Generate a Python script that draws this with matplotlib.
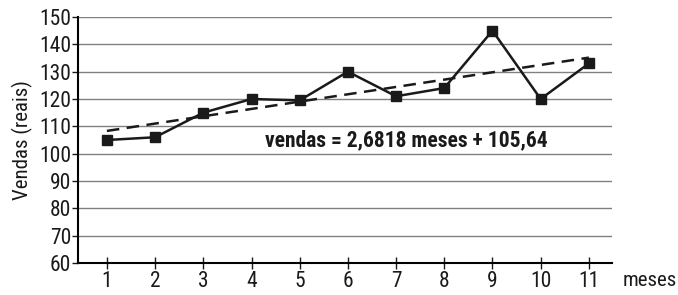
import matplotlib.pyplot as plt
import numpy as np
from matplotlib import font_manager

# fonte estreita (tipo Arial Narrow), se existir
nomes = set(f.name for f in font_manager.fontManager.ttflist)
preferidas = ['Liberation Sans Narrow', 'Arial Narrow', 'Roboto Condensed', 'PT Sans Narrow',
              'Nimbus Sans Narrow', 'Asap Condensed']
escolhida = [n for n in preferidas if n in nomes][:1]
plt.rcParams['font.family'] = escolhida + ['Liberation Sans', 'DejaVu Sans']

meses = [1, 2, 3, 4, 5, 6, 7, 8, 9, 10, 11]
vendas = [105, 106, 115, 120, 119.5, 130, 121, 124, 145, 120, 133]
coef_a = 2.6818
coef_b = 105.64
y_ticks = [60, 70, 80, 90, 100, 110, 120, 130, 140, 150]

if escolhida:
    fs_tick, fs_eq, fs_lab = 15.5, 15.5, 15
else:
    fs_tick, fs_eq, fs_lab = 13, 13, 13

fig = plt.figure(figsize=(6.78, 2.95), dpi=100)
ax = fig.add_axes([78 / 678, 1 - 263 / 295, (612 - 78) / 678, (263 - 17) / 295])

for t in y_ticks[1:]:
    ax.axhline(t, color='#808080', lw=1.0, zorder=1)

x_tend = np.array([meses[0], meses[-1]])
ax.plot(x_tend, coef_a * x_tend + coef_b, color='#1a1a1a', lw=1.8, ls=(0, (5, 3)), zorder=2)
ax.plot(meses, vendas, color='#1a1a1a', lw=1.8, marker='s', ms=7, zorder=3)

ax.text(4.28, 105, 'vendas = 2,6818 meses + 105,64', fontsize=fs_eq, fontweight='bold',
        va='center', ha='left', color='#1a1a1a')

ax.set_xlim(0.4, 11.48)
ax.set_ylim(60, 150)
ax.set_xticks(meses)
ax.set_yticks(y_ticks)
ax.tick_params(axis='x', direction='inout', length=8, width=1, labelsize=fs_tick, pad=2, colors='#1a1a1a')
ax.tick_params(axis='y', direction='out', length=4, width=1, labelsize=fs_tick, pad=1, colors='#1a1a1a')
for s in ['top', 'right']:
    ax.spines[s].set_visible(False)
ax.spines['left'].set_linewidth(1.5)
ax.spines['bottom'].set_linewidth(1.5)
ax.set_ylabel('Vendas (reais)', fontsize=fs_lab, color='#1a1a1a', labelpad=4)
fig.text(623 / 678, 1 - 281 / 295, 'meses', fontsize=fs_lab, va='center', ha='left', color='#1a1a1a')

fig.savefig('out.png', dpi=100)
